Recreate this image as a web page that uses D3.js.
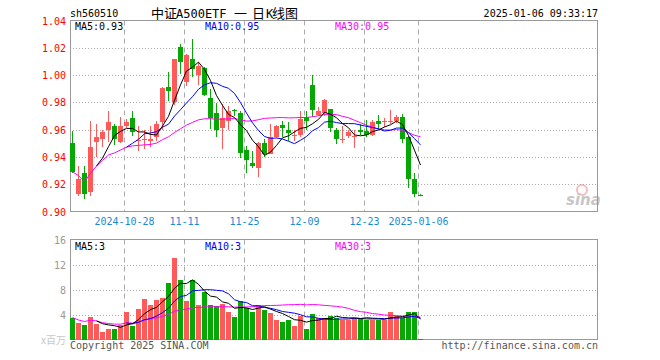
<!DOCTYPE html>
<html><head><meta charset="utf-8">
<script src="https://cdn.jsdelivr.net/npm/d3@7"></script>
<style>
html,body{margin:0;padding:0;background:#fff;}
svg{display:block;}
text{font-family:"DejaVu Sans Mono",monospace;font-size:10px;}
</style></head>
<body><svg id="c" width="660" height="360"></svg>
<script>
const dates = ["2024-10-15","2024-10-16","2024-10-17","2024-10-18","2024-10-21","2024-10-22","2024-10-23","2024-10-24","2024-10-25","2024-10-28",
"2024-10-29","2024-10-30","2024-10-31","2024-11-01","2024-11-04","2024-11-05","2024-11-06","2024-11-07","2024-11-08","2024-11-11",
"2024-11-12","2024-11-13","2024-11-14","2024-11-15","2024-11-18","2024-11-19","2024-11-20","2024-11-21","2024-11-22","2024-11-25",
"2024-11-26","2024-11-27","2024-11-28","2024-11-29","2024-12-02","2024-12-03","2024-12-04","2024-12-05","2024-12-06","2024-12-09",
"2024-12-10","2024-12-11","2024-12-12","2024-12-13","2024-12-16","2024-12-17","2024-12-18","2024-12-19","2024-12-20","2024-12-23",
"2024-12-24","2024-12-25","2024-12-26","2024-12-27","2024-12-30","2024-12-31","2025-01-02","2025-01-03","2025-01-06"];
const open  = [0.950,0.9126,0.928,0.9143,0.9508,0.953,0.960,0.963,0.9508,0.9625,
0.9684,0.9515,0.9528,0.952,0.9545,0.9655,0.991,0.980,1.0207,0.995,
1.0118,1.000,1.0052,0.983,0.9722,0.961,0.966,0.9745,0.972,0.945,
0.9355,0.9316,0.950,0.942,0.9545,0.9633,0.960,0.9558,0.956,0.9692,
0.9927,0.9706,0.972,0.975,0.960,0.9528,0.9553,0.9553,0.960,0.9589,
0.956,0.966,0.9658,0.9658,0.966,0.9692,0.9545,0.9236,0.9122];
const high  = [0.959,0.933,0.933,0.966,0.964,0.960,0.974,0.964,0.969,0.9677,
0.9735,0.9625,0.960,0.9625,0.966,0.9912,1.002,1.0118,1.023,1.0155,
1.0265,1.0096,1.006,0.9897,0.9795,0.9787,0.977,0.975,0.974,0.948,
0.944,0.9508,0.953,0.964,0.9633,0.966,0.9655,0.9597,0.974,0.974,
1.000,0.9765,0.9824,0.975,0.961,0.9625,0.960,0.9597,0.964,0.967,
0.967,0.9706,0.9684,0.9743,0.9706,0.9713,0.955,0.928,0.9125];
const low   = [0.928,0.9116,0.909,0.9113,0.940,0.947,0.951,0.9486,0.950,0.961,
0.955,0.9445,0.9457,0.947,0.9515,0.9597,0.981,0.978,1.001,0.992,
0.9986,0.9927,0.9846,0.9604,0.9545,0.9457,0.960,0.970,0.939,0.928,
0.932,0.925,0.9397,0.942,0.954,0.9545,0.952,0.9515,0.9545,0.9597,
0.9692,0.970,0.970,0.958,0.9493,0.950,0.954,0.9464,0.956,0.9545,
0.955,0.960,0.962,0.964,0.965,0.950,0.917,0.9104,0.911];
const close = [0.929,0.9236,0.9126,0.947,0.9545,0.958,0.9655,0.953,0.9625,0.9655,
0.958,0.9525,0.9532,0.953,0.964,0.9905,0.988,1.0118,1.0096,1.0148,
1.0045,1.0067,0.9854,0.9684,0.960,0.9684,0.9735,0.9740,0.9426,0.938,
0.933,0.950,0.942,0.9545,0.9625,0.961,0.9574,0.9562,0.9677,0.966,
0.9743,0.9735,0.9817,0.961,0.953,0.9532,0.958,0.9553,0.958,0.956,
0.9655,0.964,0.9662,0.9662,0.9692,0.953,0.9236,0.9126,0.9118];
const volume = [3.52,2.72,2.4,3.68,2.56,1.28,1.76,1.76,2.4,4.48,
2.24,4.96,6.56,5.6,6.4,6.72,9.12,13.12,9.6,6.24,
9.6,5.6,7.68,5.6,5.44,5.76,4.48,3.68,6.24,5.12,
4.48,5.6,4.8,4.32,3.2,2.88,3.2,2.24,3.84,1.76,
4.16,3.52,3.52,3.84,3.52,3.2,3.2,3.52,3.36,3.2,
3.2,3.2,3.2,4.48,3.84,3.52,4.48,4.48,0.16];
const priceTicks = [1.04,1.02,1.00,0.98,0.96,0.94,0.92,0.90];
const volTicks = [16,12,8,4];
const dateTickDates = ["2024-10-28","2024-11-11","2024-11-25","2024-12-09","2024-12-23","2025-01-06"];
const dateTickLabels = ["2024-10-28","11-11","11-25","12-09","12-23","2025-01-06"];
const maLabels = ["MA5:0.93","MA10:0.95","MA30:0.95"];
const volMaLabels = ["MA5:3","MA10:3","MA30:3"];

const RED="#ff5a5a", GREEN="#05a805", GRID="#aaaaaa";
const svg = d3.select("#c");
const L=70, R=598;
const x = d3.scaleBand().domain(dates).range([L, L+6*dates.length-1]).paddingInner(1/6).paddingOuter(0);
const bw = x.bandwidth();
const yP = d3.scaleLinear().domain([0.90,1.04]).range([211.5,20.5]);
const yV = d3.scaleLinear().domain([0,16]).range([339.5,239.5]);

function ma(arr,n,expanding){
  return arr.map((v,i)=>{
    if(i<n-1 && !expanding) return null;
    const s=Math.max(0,i-n+1);
    return d3.mean(arr.slice(s,i+1));
  });
}
const isUp = dates.map((d,i)=>close[i]>=open[i]);

// header
svg.append("text").attr("x",70).attr("y",17).text("sh560510");
const title = svg.append("text").attr("y",18).style("font-size","13px");
const cjk="'Noto Sans CJK SC',sans-serif", mono="'DejaVu Sans Mono',monospace";
[["中证",151,cjk,"13px"],["A500ETF",176,mono,"12px"],["一",234,cjk,"13px"],["日",252,cjk,"13px"],["K",266,mono,"12px"],["线图",272,cjk,"13px"]]
  .forEach(p=>title.append("tspan").attr("x",p[1]).style("font-family",p[2]).style("font-size",p[3]).text(p[0]));
svg.append("text").attr("x",598).attr("y",17).attr("text-anchor","end").text("2025-01-06 09:33:17");

function panel(y, ticks, tickColor, fmt, top, bottom){
  const g=svg.append("g");
  g.selectAll(".hg").data(ticks.filter(t=>y(t)>top+1 && y(t)<bottom-1)).enter().append("line")
    .attr("x1",L).attr("x2",R).attr("y1",d=>Math.round(y(d))+0.5).attr("y2",d=>Math.round(y(d))+0.5)
    .attr("stroke",GRID).attr("stroke-dasharray","1,2");
  g.selectAll(".vg").data(dateTickDates).enter().append("line")
    .attr("x1",d=>x(d)+0.5).attr("x2",d=>x(d)+0.5).attr("y1",top).attr("y2",bottom)
    .attr("stroke",GRID).attr("stroke-dasharray","5,4");
  g.append("rect").attr("x",L+0.5).attr("y",top).attr("width",R-L-1).attr("height",bottom-top)
    .attr("fill","none").attr("stroke","#999");
  g.selectAll(".tl").data(ticks).enter().append("text")
    .attr("x",66).attr("y",d=>y(d)+4).attr("text-anchor","end").attr("fill",tickColor).text(fmt);
  return g;
}
panel(yP, priceTicks, "#ff0000", d=>d.toFixed(2), 20.5, 211.5);
panel(yV, volTicks, "#999999", d=>d, 239.5, 339.5);

svg.selectAll(".dl").data(dateTickDates).enter().append("text")
  .attr("x",d=>x(d)+0.5).attr("y",225).attr("text-anchor","middle").attr("fill","#1a8ad8")
  .text((d,i)=>dateTickLabels[i]);

const cg = svg.append("g").attr("shape-rendering","crispEdges");
cg.selectAll(".wick").data(dates).enter().append("line")
  .attr("x1",d=>x(d)+2.5).attr("x2",d=>x(d)+2.5)
  .attr("y1",(d,i)=>yP(high[i])).attr("y2",(d,i)=>yP(low[i]))
  .attr("stroke",(d,i)=>isUp[i]?RED:GREEN);
cg.selectAll(".body").data(dates).enter().append("rect")
  .attr("x",d=>x(d)).attr("width",bw)
  .attr("y",(d,i)=>yP(Math.max(open[i],close[i])))
  .attr("height",(d,i)=>Math.max(1,yP(Math.min(open[i],close[i]))-yP(Math.max(open[i],close[i]))))
  .attr("fill",(d,i)=>isUp[i]?RED:GREEN);

cg.selectAll(".vb").data(dates).enter().append("rect")
  .attr("x",d=>x(d)).attr("width",bw)
  .attr("y",(d,i)=>yV(volume[i])).attr("height",(d,i)=>Math.max(1,yV(0)-yV(volume[i])))
  .attr("fill",(d,i)=>isUp[i]?RED:GREEN);

function drawMA(vals, y, color){
  const line=d3.line().defined(d=>d[1]!=null).x(d=>x(d[0])+2.5).y(d=>y(d[1]));
  svg.append("path").datum(dates.map((d,i)=>[d,vals[i]])).attr("d",line)
    .attr("fill","none").attr("stroke",color).attr("stroke-width",1);
}
drawMA(ma(close,30,true), yP, "#ff00ff");
drawMA(ma(close,10,false), yP, "#0000ff");
drawMA(ma(close,5,false), yP, "#000000");
drawMA(ma(volume,30,true), yV, "#ff00ff");
drawMA(ma(volume,10,false), yV, "#0000ff");
drawMA(ma(volume,5,false), yV, "#000000");

const maColors=["#000000","#0000ff","#ff00ff"], maX=[75,205,335];
maLabels.forEach((t,i)=>svg.append("text").attr("x",maX[i]).attr("y",30).attr("fill",maColors[i]).text(t));
volMaLabels.forEach((t,i)=>svg.append("text").attr("x",maX[i]).attr("y",250).attr("fill",maColors[i]).text(t));

svg.append("text").attr("x",66).attr("y",344).attr("text-anchor","end").attr("fill","#c8c8c8")
  .style("font-family",cjk).text("x百万");
svg.append("text").attr("x",70).attr("y",349).attr("fill","#555").text("Copyright 2025 SINA.COM");
svg.append("text").attr("x",598).attr("y",349).attr("text-anchor","end").attr("fill","#555").text("http://finance.sina.com.cn");

const wm=svg.append("g").attr("opacity",0.55);
wm.append("circle").attr("cx",582).attr("cy",190).attr("r",5).attr("fill","none").attr("stroke","#e88").attr("stroke-width",2);
wm.append("text").attr("x",566).attr("y",205).attr("fill","#999").style("font-family","'DejaVu Sans',sans-serif")
  .style("font-size","15px").style("font-weight","bold").style("font-style","italic").text("sina");
</script></body></html>
